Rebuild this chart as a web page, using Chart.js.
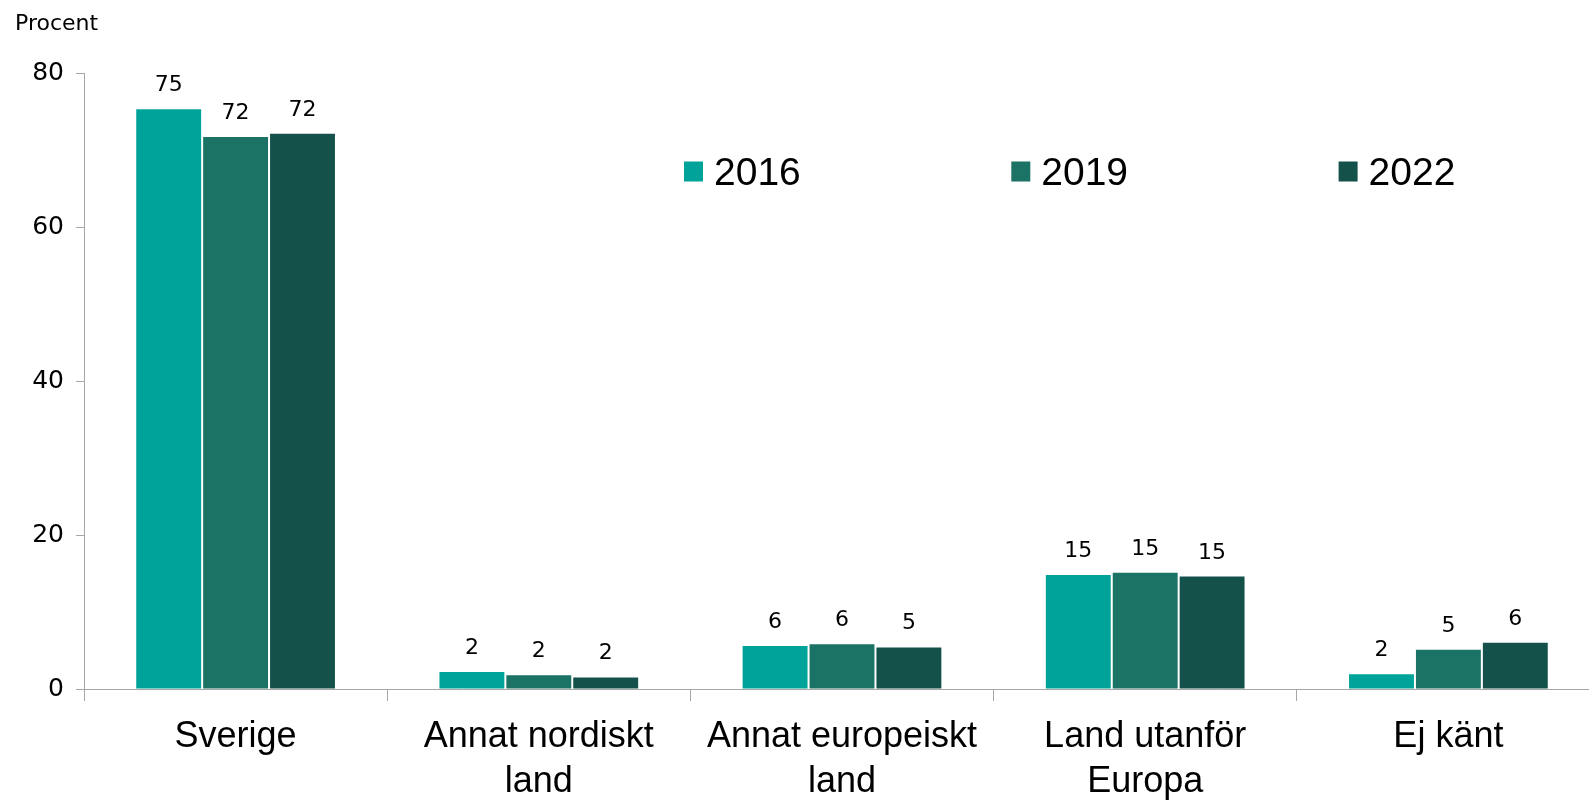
<!DOCTYPE html>
<html><head><meta charset="utf-8">
<script src="https://cdn.jsdelivr.net/npm/chart.js@4/dist/chart.umd.min.js"></script>
<style>html,body{margin:0;padding:0;background:#fff;overflow:hidden;} #wrap{width:1600px;height:802px;position:relative;}</style>
</head><body><div id="wrap"><canvas id="c" width="1600" height="802"></canvas></div>
<script>
const categories = [['Sverige'], ['Annat nordiskt', 'land'], ['Annat europeiskt', 'land'], ['Land utanför', 'Europa'], ['Ej känt']];
const seriesNames = ['2016', '2019', '2022'];
const values2016 = [75.3, 2.2, 5.6, 14.8, 1.9];
const values2019 = [71.7, 1.8, 5.8, 15.1, 5.1];
const values2022 = [72.1, 1.5, 5.4, 14.6, 6.0];
const yTicks = [0, 20, 40, 60, 80];
const colors = ['#00A39A', '#1B7366', '#14514A'];
const yTitle = 'Procent';

const valueLabels = {
  id: 'valueLabels',
  afterDatasetsDraw(chart) {
    const ctx = chart.ctx;
    ctx.save();
    ctx.font = '22px "DejaVu Sans"';
    ctx.fillStyle = '#000';
    ctx.textAlign = 'center';
    ctx.textBaseline = 'alphabetic';
    chart.data.datasets.forEach((ds, i) => {
      chart.getDatasetMeta(i).data.forEach((bar, j) => {
        ctx.fillText(String(Math.round(ds.data[j])), bar.x, bar.y - 18);
      });
    });
    ctx.restore();
  }
};

const insideLegend = {
  id: 'insideLegend',
  afterDraw(chart) {
    const ctx = chart.ctx;
    const area = chart.chartArea;
    ctx.save();
    ctx.font = '39px "Liberation Sans"';
    ctx.textAlign = 'left';
    ctx.textBaseline = 'alphabetic';
    chart.data.datasets.forEach((ds, i) => {
      const x = area.left + 600 + i * 327.3;
      const yC = area.top + 98.5;
      ctx.fillStyle = ds.backgroundColor;
      ctx.fillRect(x, yC - 10, 19, 20);
      ctx.fillStyle = '#000';
      ctx.fillText(ds.label, x + 30, area.top + 112);
    });
    ctx.restore();
  }
};

new Chart(document.getElementById('c'), {
  type: 'bar',
  data: {
    labels: categories,
    datasets: [
      { label: seriesNames[0], data: values2016, backgroundColor: colors[0] },
      { label: seriesNames[1], data: values2019, backgroundColor: colors[1] },
      { label: seriesNames[2], data: values2022, backgroundColor: colors[2] }
    ]
  },
  options: {
    responsive: false,
    animation: false,
    datasets: { bar: { categoryPercentage: 0.662, barPercentage: 0.97, borderWidth: 0 } },
    layout: { padding: { left: 15, right: 0, top: 0, bottom: 0 } },
    plugins: {
      legend: { display: false },
      tooltip: { enabled: false },
      title: {
        display: true, text: yTitle, align: 'start', color: '#000',
        font: { family: 'DejaVu Sans', size: 22, weight: 'normal', lineHeight: 1.2 },
        padding: { top: 11, bottom: 35.6 }
      }
    },
    scales: {
      x: {
        grid: { display: true, drawOnChartArea: false, drawTicks: true, tickLength: 12, color: '#A6A6A6', offset: true },
        border: { color: '#A6A6A6', width: 1 },
        ticks: { color: '#000', font: { family: 'Liberation Sans', size: 36, lineHeight: 1.24 }, padding: 14, maxRotation: 0, autoSkip: false },
        afterFit(s) { s.height = 113; }
      },
      y: {
        min: 0, max: 80,
        afterBuildTicks(s) { s.ticks = yTicks.map(v => ({ value: v })); },
        grid: { display: true, drawOnChartArea: false, drawTicks: true, tickLength: 8, color: '#A6A6A6' },
        border: { color: '#A6A6A6', width: 1 },
        ticks: { color: '#000', font: { family: 'DejaVu Sans', size: 25 }, padding: 12 },
        afterFit(s) { s.width = 69; }
      }
    }
  },
  plugins: [valueLabels, insideLegend]
});
</script>
</body></html>
